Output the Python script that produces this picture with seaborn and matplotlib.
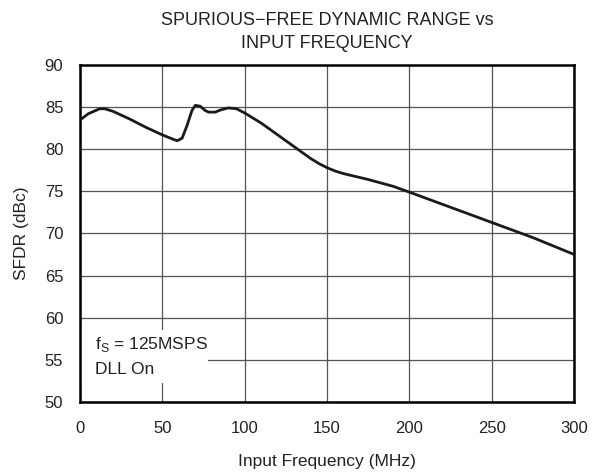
import numpy as np
import pandas as pd
import matplotlib
matplotlib.use("Agg")
import matplotlib.pyplot as plt
import seaborn as sns
from matplotlib.patches import Rectangle

# data
freq_mhz = [1, 5, 12, 15, 20, 30, 40, 50, 55, 59, 62, 65, 68, 70, 73,
            76, 78, 82, 86, 90, 95, 100, 105, 110, 120, 130, 140, 145,
            150, 155, 160, 175, 190, 200, 225, 250, 275, 300]
sfdr_dbc = [83.6, 84.2, 84.8, 84.8, 84.5, 83.6, 82.6, 81.7, 81.3, 81.0,
            81.3, 82.8, 84.6, 85.2, 85.1, 84.6, 84.4, 84.4, 84.7, 84.9,
            84.8, 84.3, 83.7, 83.1, 81.7, 80.3, 78.9, 78.3, 77.8, 77.4,
            77.1, 76.4, 75.6, 74.9, 73.1, 71.3, 69.5, 67.5]
x_ticks = [0, 50, 100, 150, 200, 250, 300]
y_ticks = [50, 55, 60, 65, 70, 75, 80, 85, 90]

df = pd.DataFrame({"freq": freq_mhz, "sfdr": sfdr_dbc})

sns.set_style("white")
plt.rcParams['font.family'] = ['Liberation Sans', 'DejaVu Sans']
txt = "#222222"

fig = plt.figure(figsize=(5.92, 4.74), dpi=100)
ax = fig.add_axes([0.135, 0.152, 0.835, 0.711])

sns.lineplot(data=df, x="freq", y="sfdr", color="#1a1a1a", linewidth=2, ax=ax, zorder=3)

ax.set_xlim(0, 300)
ax.set_ylim(50, 90)
ax.set_xticks(x_ticks)
ax.set_yticks(y_ticks)
ax.grid(True, color="#555555", linewidth=0.9)
ax.set_axisbelow(True)
for s in ax.spines.values():
    s.set_color("black")
    s.set_linewidth(1.8)
ax.tick_params(axis="both", length=0, labelsize=12, colors=txt)
ax.tick_params(axis="x", pad=14)
ax.tick_params(axis="y", pad=12)

ax.set_xlabel("Input Frequency (MHz)", fontsize=12.5, labelpad=13, color=txt)
ax.set_ylabel("SFDR (dBc)", fontsize=12.5, labelpad=11, color=txt)
ax.set_title("SPURIOUS\u2212FREE DYNAMIC RANGE vs\nINPUT FREQUENCY", fontsize=13,
             pad=12, color=txt, linespacing=1.45)

# white label box that hides the grid behind the note
ax.add_patch(Rectangle((0, 0.056), 0.259, 0.158, transform=ax.transAxes,
                       facecolor="white", edgecolor="none", zorder=2))
ax.text(0.030, 0.169, "f$_\\mathregular{S}$ = 125MSPS", transform=ax.transAxes,
        fontsize=12.5, va="center", ha="left", color=txt, zorder=4)
ax.text(0.030, 0.095, "DLL On", transform=ax.transAxes,
        fontsize=12.5, va="center", ha="left", color=txt, zorder=4)

fig.savefig("out.png", dpi=100)
